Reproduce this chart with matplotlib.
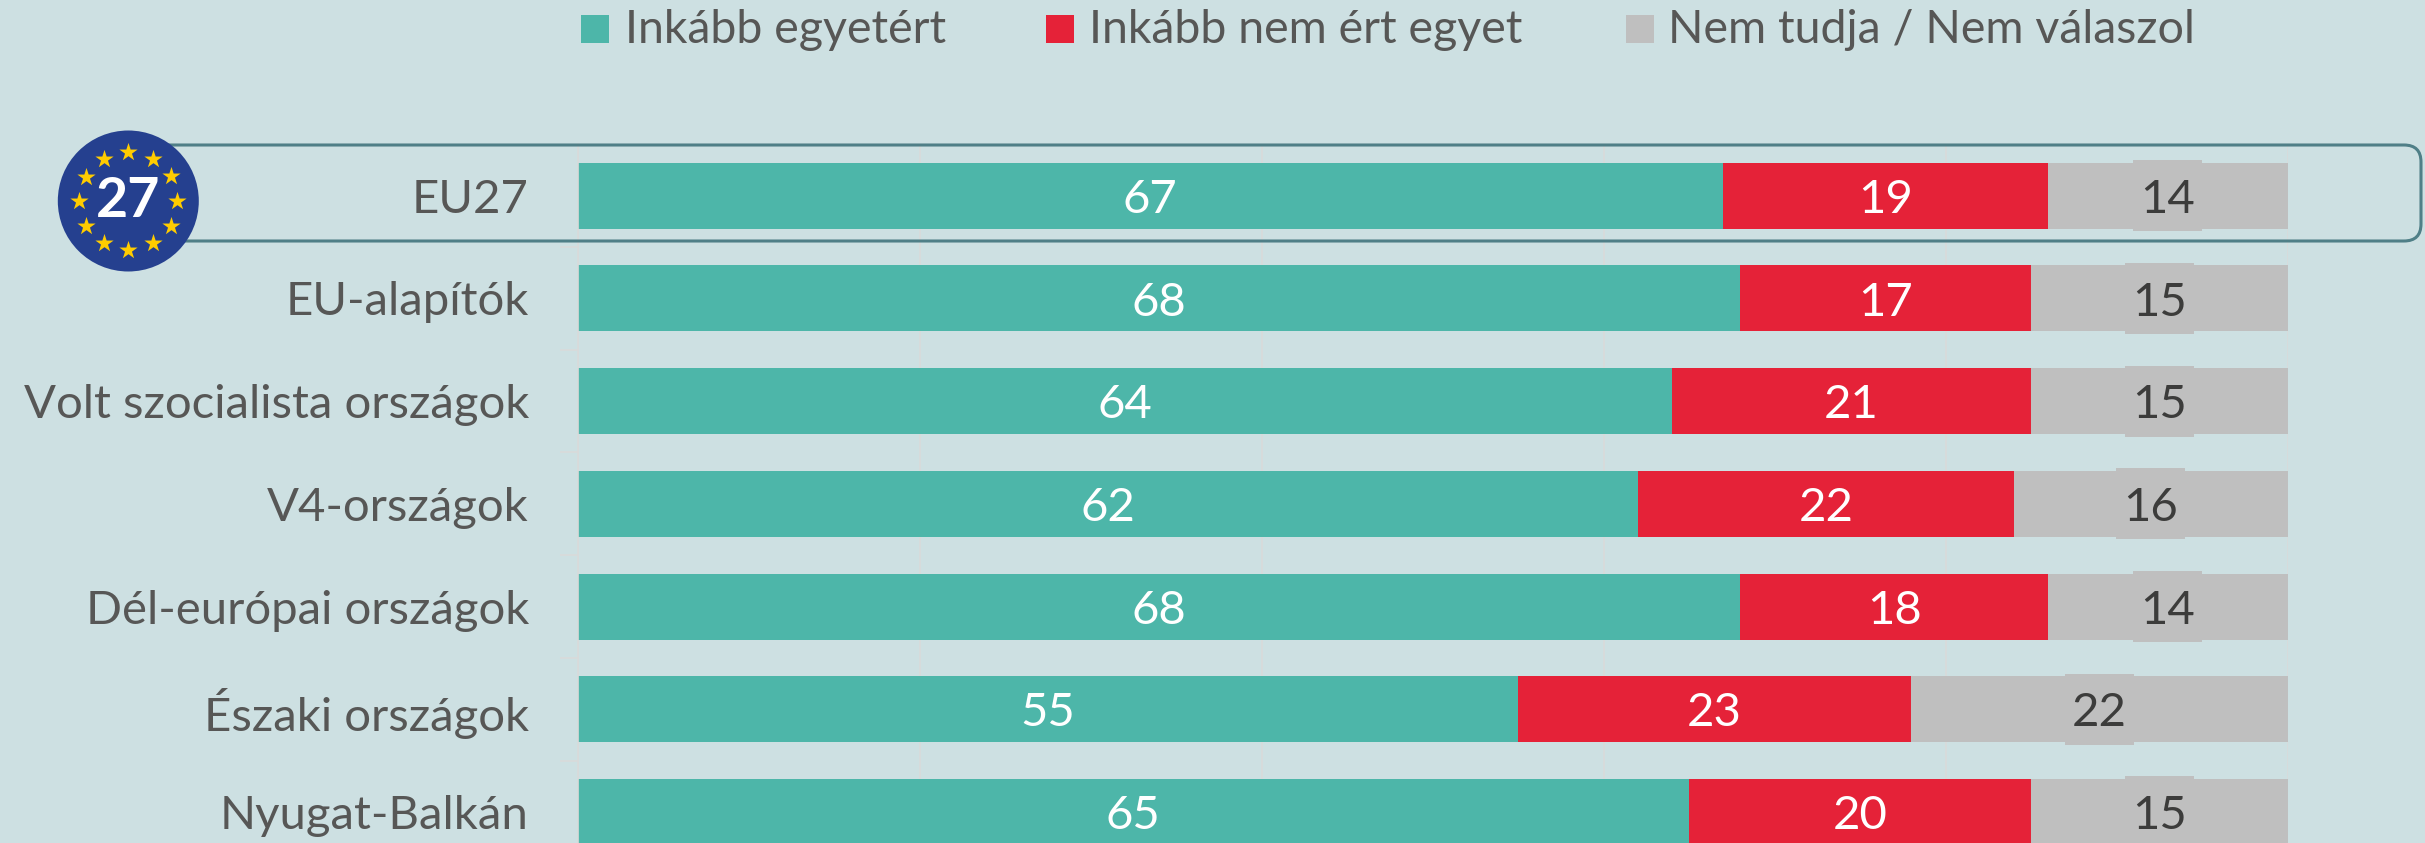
import matplotlib

matplotlib.use("Agg")
import matplotlib.pyplot as plt
import numpy as np
from matplotlib.patches import Circle, FancyBboxPatch, Rectangle

categories = [
    "EU27",
    "EU-alapítók",
    "Volt szocialista országok",
    "V4-országok",
    "Dél-európai országok",
    "Északi országok",
    "Nyugat-Balkán",
]
agree = [67, 68, 64, 62, 68, 55, 65]
disagree = [19, 17, 21, 22, 18, 23, 20]
no_answer = [14, 15, 15, 16, 14, 22, 15]
legend_labels = ["Inkább egyetért", "Inkább nem ért egyet", "Nem tudja / Nem válaszol"]
grid_ticks = [0, 20, 40, 60, 80, 100]

BG = "#CDE0E2"
TEAL = "#4DB6A9"
RED = "#E52238"
GREY = "#BFBFBF"
TEXT = "#575756"
DARK = "#3C3C3B"
GRID = "#D8DADA"

plt.rcParams["font.family"] = ["Lato", "DejaVu Sans"]

W, H = 2425, 843
fig = plt.figure(figsize=(W / 100, H / 100), dpi=100, facecolor=BG)

# bars: 578..2288 px across, rows 102.7 px apart, first row centred on 195.7 px
row_h = 102.7
top_px = 195.7 - row_h / 2
ax = fig.add_axes([577.5 / W, 0, 1710 / W, 1 - top_px / H], facecolor="none")
ax.set_xlim(0, 100)
ax.set_ylim((H - 195.7) / row_h, -0.5)

rows = np.arange(len(categories))
agree = np.array(agree)
disagree = np.array(disagree)
no_answer = np.array(no_answer)
bar_h = 66 / row_h

ax.grid(axis="x", color=GRID, lw=1.2, zorder=0)
ax.set_axisbelow(True)
ax.barh(rows, agree, height=bar_h, color=TEAL, zorder=2)
ax.barh(rows, disagree, left=agree, height=bar_h, color=RED, zorder=2)
ax.barh(rows, no_answer, left=agree + disagree, height=bar_h, color=GREY, zorder=2)

# the grey labels sit on a slightly taller patch than the bar
grey_mid = agree + disagree + no_answer / 2
ax.barh(rows, 69 / 17.1, left=grey_mid - 69 / 17.1 / 2, height=71 / row_h, color=GREY, zorder=2)

for i in rows:
    ax.text(agree[i] / 2, i + 0.04, str(agree[i]), color="white", fontsize=34, ha="center", va="center", zorder=3)
    ax.text(agree[i] + disagree[i] / 2, i + 0.04, str(disagree[i]), color="white", fontsize=34, ha="center", va="center", zorder=3)
    ax.text(grey_mid[i], i + 0.04, str(no_answer[i]), color=DARK, fontsize=34, ha="center", va="center", zorder=3)

ax.set_xticks(grid_ticks)
ax.tick_params(axis="x", length=0, labelbottom=False)
ax.set_yticks(rows, categories, fontsize=34, color=TEXT)
ax.tick_params(axis="y", which="major", length=0, pad=35)
ax.set_yticks(rows[:-1] + 0.5, minor=True)
ax.tick_params(axis="y", which="minor", length=13, width=1.2, color=GRID)
for name, spine in ax.spines.items():
    spine.set_visible(name == "left")
    spine.set_color(GRID)
    spine.set_linewidth(1.2)

# overlay in pixel coordinates for legend, highlight box and badge
over = fig.add_axes([0, 0, 1, 1], facecolor="none")
over.set_xlim(0, W)
over.set_ylim(H, 0)
over.axis("off")

box = FancyBboxPatch((110, 145), 2311, 96, boxstyle="round,pad=0,rounding_size=17",
                     fc="none", ec="#4F7F87", lw=2.2)
over.add_patch(box)
over.add_patch(Circle((128.3, 201), 70.5, fc="#25408F", ec="none", zorder=4))
angles = np.deg2rad(np.arange(0, 360, 30))
over.scatter(128.3 + 49 * np.cos(angles), 201 + 49 * np.sin(angles), marker="*", s=190,
             color="#FFCC00", linewidths=0, zorder=5)
over.text(128.3, 201, "27", color="white", fontsize=40, fontweight="bold", ha="center", va="center", zorder=6)

swatch_x = [581, 1046, 1626]
text_x = [625, 1089, 1668]
for sx, tx, label, color in zip(swatch_x, text_x, legend_labels, [TEAL, RED, GREY]):
    over.add_patch(Rectangle((sx, 15), 28, 28, fc=color, ec="none"))
    over.text(tx, 30, label, color=TEXT, fontsize=33.5, ha="left", va="center")

fig.savefig("out.png", dpi=100, facecolor=BG)
